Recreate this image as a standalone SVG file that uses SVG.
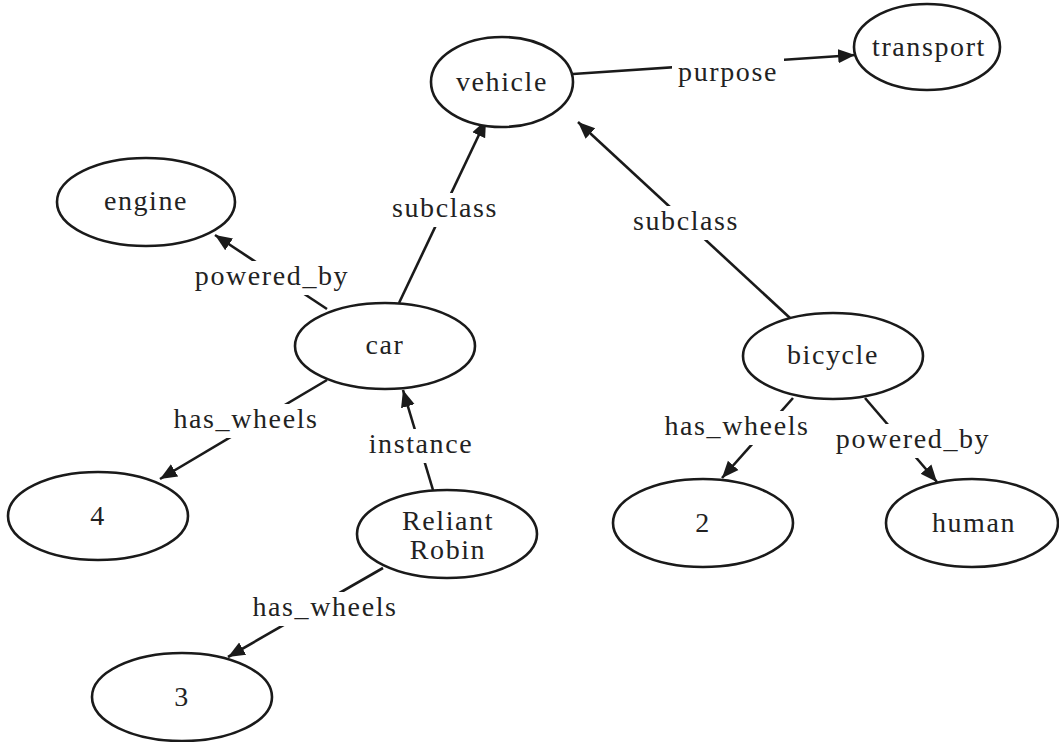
<svg xmlns="http://www.w3.org/2000/svg" width="1059" height="742" viewBox="0 0 1059 742">
<style>
.n ellipse{fill:#fff;stroke:#1a1a1a;stroke-width:2.6}
text{font-family:"Liberation Serif","Times New Roman",serif;font-size:28px;fill:#222;text-anchor:middle;letter-spacing:1.6px}
.e line{stroke:#1a1a1a;stroke-width:2.6}
.e rect{fill:#fff}
</style>
<defs>
<marker id="a" viewBox="0 0 10 10" refX="10" refY="5" markerWidth="6.5" markerHeight="6.5" markerUnits="strokeWidth" orient="auto"><path d="M0,0.8 L10,5 L0,9.2 z" fill="#1a1a1a"/></marker>
</defs>
<g class="e" id="edges">
<line x1="573" y1="74" x2="855" y2="55" marker-end="url(#a)"/>
<line x1="399" y1="303" x2="486" y2="120" marker-end="url(#a)"/>
<line x1="790" y1="318" x2="578" y2="122" marker-end="url(#a)"/>
<line x1="327" y1="309" x2="215" y2="235" marker-end="url(#a)"/>
<line x1="327" y1="380" x2="160" y2="479" marker-end="url(#a)"/>
<line x1="433" y1="490" x2="403" y2="390" marker-end="url(#a)"/>
<line x1="383" y1="568" x2="228" y2="657" marker-end="url(#a)"/>
<line x1="793" y1="398" x2="722" y2="478" marker-end="url(#a)"/>
<line x1="865" y1="398" x2="937" y2="482" marker-end="url(#a)"/>
<rect x="672" y="57" width="112" height="32"/>
<rect x="388" y="193" width="114" height="34"/>
<rect x="629" y="206" width="114" height="34"/>
<rect x="191" y="261" width="162" height="34"/>
<rect x="170" y="404" width="152" height="34"/>
<rect x="365" y="429" width="112" height="34"/>
<rect x="249" y="592" width="152" height="34"/>
<rect x="661" y="411" width="152" height="34"/>
<rect x="832" y="424" width="162" height="34"/>
<text x="728" y="81">purpose</text>
<text x="445" y="217">subclass</text>
<text x="686" y="230">subclass</text>
<text x="272" y="285">powered_by</text>
<text x="246" y="428">has_wheels</text>
<text x="421" y="453">instance</text>
<text x="325" y="616">has_wheels</text>
<text x="737" y="435">has_wheels</text>
<text x="913" y="448">powered_by</text>
</g>
<g class="n" id="vehicle"><ellipse cx="502" cy="82" rx="71" ry="45"/><text x="502" y="91">vehicle</text></g>
<g class="n" id="transport"><ellipse cx="927" cy="47" rx="73" ry="43"/><text x="929" y="56">transport</text></g>
<g class="n" id="engine"><ellipse cx="146" cy="202" rx="89" ry="44"/><text x="146" y="210">engine</text></g>
<g class="n" id="car"><ellipse cx="385" cy="346" rx="90" ry="43"/><text x="385" y="354">car</text></g>
<g class="n" id="bicycle"><ellipse cx="833" cy="356" rx="90" ry="43"/><text x="833" y="364">bicycle</text></g>
<g class="n" id="n4"><ellipse cx="98" cy="516" rx="90" ry="44"/><text x="98" y="525">4</text></g>
<g class="n" id="reliant"><ellipse cx="447" cy="534" rx="90" ry="44"/><text x="448" y="530">Reliant</text><text x="448" y="559">Robin</text></g>
<g class="n" id="n3"><ellipse cx="182" cy="697" rx="90" ry="44"/><text x="182" y="706">3</text></g>
<g class="n" id="n2"><ellipse cx="703" cy="523" rx="90" ry="44"/><text x="703" y="532">2</text></g>
<g class="n" id="human"><ellipse cx="972" cy="523" rx="86" ry="44"/><text x="974" y="532">human</text></g>
</svg>
